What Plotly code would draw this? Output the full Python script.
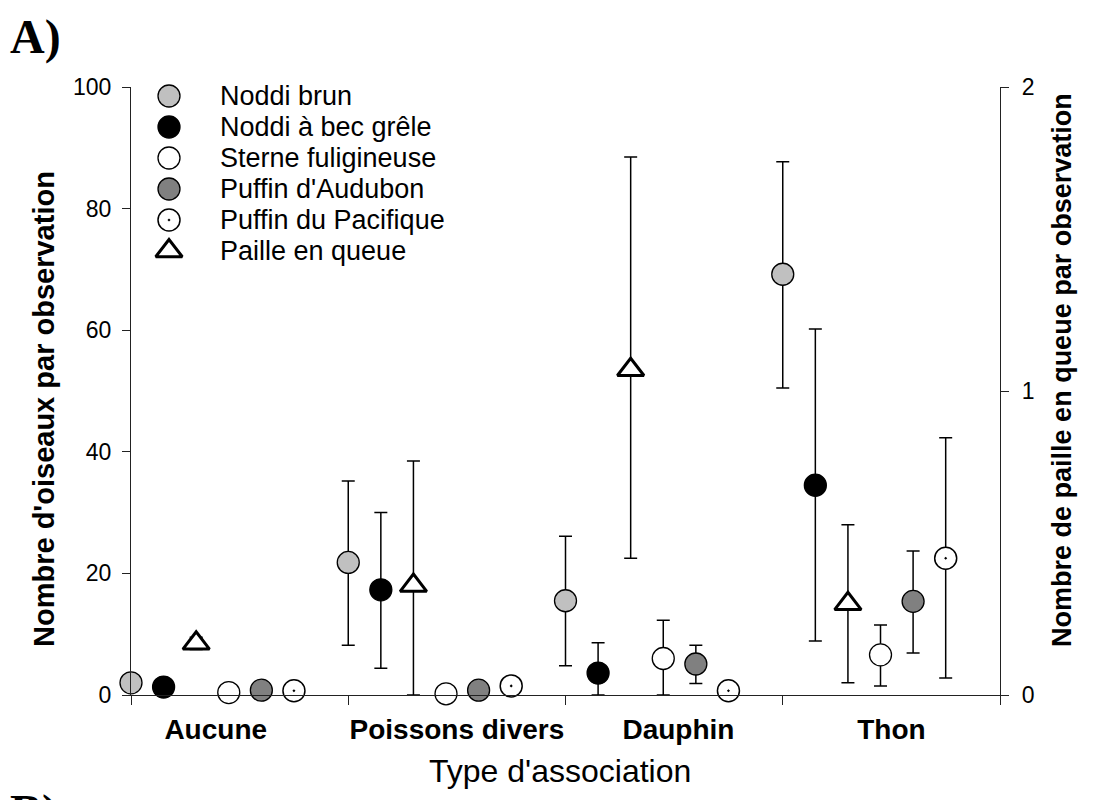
import plotly.graph_objects as go

# ---------------- data ----------------
groups = ["Aucune", "Poissons divers", "Dauphin", "Thon"]

noddi_brun = [2.0, 21.8, 15.5, 69.2]
noddi_brun_hi = [None, 35.2, 26.1, 87.7]
noddi_brun_lo = [None, 8.2, 4.8, 50.5]

noddi_bec = [1.3, 17.3, 3.6, 34.5]
noddi_bec_hi = [None, 30.0, 8.6, 60.2]
noddi_bec_lo = [None, 4.4, 0.0, 8.9]

sterne = [0.4, 0.2, 6.0, 6.6]
sterne_hi = [None, None, 12.3, 11.5]
sterne_lo = [None, None, 0.0, 1.5]

audubon = [0.8, 0.8, 5.1, 15.4]
audubon_hi = [None, None, 8.2, 23.7]
audubon_lo = [None, None, 1.9, 6.9]

pacifique = [0.7, 1.5, 0.7, 22.5]
pacifique_hi = [None, None, None, 42.3]
pacifique_lo = [None, None, None, 2.8]

# right axis (paille en queue)
paille = [0.17, 0.36, 1.07, 0.30]
paille_hi = [0.19, 0.77, 1.77, 0.56]
paille_lo = [0.15, 0.0, 0.45, 0.04]

left_ticks = [0, 20, 40, 60, 80, 100]
right_ticks = [0, 1, 2]

# ---------------- styling ----------------
FONT = "Arial, Liberation Sans, sans-serif"
SERIF = "Liberation Serif, Times New Roman, serif"
SLOT = 0.15
LABEL_X = [0.39, 1.5, 2.52, 3.5]

def err(vals, hi, lo):
    up = [None if h is None else h - v for v, h in zip(vals, hi)]
    dn = [None if l is None else v - l for v, l in zip(vals, lo)]
    return up, dn

series = [
    dict(name="Noddi brun", v=noddi_brun, hi=noddi_brun_hi, lo=noddi_brun_lo, slot=0, axis="y",
         marker=dict(symbol="circle", color="#c0c0c0", size=22, line=dict(color="black", width=1.3))),
    dict(name="Noddi à bec grêle", v=noddi_bec, hi=noddi_bec_hi, lo=noddi_bec_lo, slot=1, axis="y",
         marker=dict(symbol="circle", color="black", size=22, line=dict(color="black", width=1.3))),
    dict(name="Sterne fuligineuse", v=sterne, hi=sterne_hi, lo=sterne_lo, slot=3, axis="y",
         marker=dict(symbol="circle", color="white", size=22, line=dict(color="black", width=1.3))),
    dict(name="Puffin d'Audubon", v=audubon, hi=audubon_hi, lo=audubon_lo, slot=4, axis="y",
         marker=dict(symbol="circle", color="#808080", size=22, line=dict(color="black", width=1.3))),
    dict(name="Puffin du Pacifique", v=pacifique, hi=pacifique_hi, lo=pacifique_lo, slot=5, axis="y",
         marker=dict(symbol="circle-dot", color="white", size=22, line=dict(color="black", width=1.5))),
    dict(name="Paille en queue", v=paille, hi=paille_hi, lo=paille_lo, slot=2, axis="y2",
         marker=dict(symbol="triangle-up", color="white", size=23, line=dict(color="black", width=3))),
]

fig = go.Figure()

for s in series:
    up, dn = err(s["v"], s["hi"], s["lo"])
    xs = [g + s["slot"] * SLOT for g in range(len(groups))]
    fig.add_trace(go.Scatter(
        x=xs, y=s["v"], mode="markers", name=s["name"], yaxis=s["axis"],
        marker=s["marker"], cliponaxis=False, showlegend=False,
        error_y=dict(type="data", symmetric=False, array=up, arrayminus=dn,
                     color="black", thickness=1.5, width=6.5, visible=True),
    ))

# legend drawn on a hidden overlay subplot (one row per series)
LEG_MARKER_X = 38
LEG_TEXT_X = 87
for i, s in enumerate(series):
    fig.add_trace(go.Scatter(
        x=[LEG_MARKER_X], y=[i], mode="markers", xaxis="x3", yaxis="y3",
        marker=s["marker"], showlegend=False, cliponaxis=False, hoverinfo="skip",
    ))
    fig.add_annotation(x=LEG_TEXT_X, y=i, xref="x3", yref="y3", text=s["name"],
                       showarrow=False, xanchor="left", yanchor="middle",
                       font=dict(family=FONT, size=27, color="black"))

axis_common = dict(showgrid=False, zeroline=False, showline=True, linecolor="#222",
                   linewidth=1.2, ticks="outside", ticklen=8, tickcolor="#222",
                   tickwidth=1.2)

# page body has an 8px margin: the figure is sized/placed to compensate
fig.update_layout(
    width=1095, height=792,
    margin=dict(l=123, r=103, t=79, b=105),
    paper_bgcolor="white", plot_bgcolor="white",
    showlegend=False,
    font=dict(family=FONT, color="black"),
    xaxis=dict(range=[0, 4], showgrid=False, zeroline=False, showline=True,
               linecolor="#222", linewidth=1.2,
               tickmode="array", tickvals=LABEL_X, ticktext=groups, ticks="",
               tickfont=dict(family=FONT, size=28, color="black", weight="bold"),
               ticklabelstandoff=9,
               minor=dict(tickmode="array", tickvals=[0, 1, 2, 3, 4], ticks="outside",
                          ticklen=9, tickcolor="#222", tickwidth=1.2, showgrid=False)),
    yaxis=dict(range=[0, 100], tickvals=left_ticks,
               tickfont=dict(family=FONT, size=23, color="black"),
               ticklabelstandoff=6, **axis_common),
    yaxis2=dict(range=[0, 2], tickvals=right_ticks, overlaying="y", side="right",
                anchor="x", tickfont=dict(family=FONT, size=23, color="black"),
                ticklabelstandoff=8, **axis_common),
    xaxis3=dict(overlaying="x", anchor="y3", range=[0, 869], visible=False),
    yaxis3=dict(overlaying="y", anchor="x3", range=[19.32, -0.29], visible=False),
)

# axis titles and panel letters
fig.add_annotation(text="Nombre d'oiseaux par observation", xref="paper", yref="paper",
                   x=-0.1001, y=0.0757, xanchor="center", yanchor="bottom", textangle=-90,
                   showarrow=False, font=dict(family=FONT, size=29, color="black", weight="bold"))
fig.add_annotation(text="Nombre de paille en queue par observation", xref="paper", yref="paper",
                   x=1.0713, y=0.0757, xanchor="center", yanchor="bottom", textangle=-90,
                   showarrow=False, font=dict(family=FONT, size=27, color="black", weight="bold"))
fig.add_annotation(text="Type d'association", xref="paper", yref="paper",
                   x=0.4937, y=-0.1250, xanchor="center", yanchor="middle",
                   showarrow=False, font=dict(family=FONT, size=32, color="black"))
fig.add_annotation(text="A)", xref="paper", yref="paper", x=-0.1415, y=1.1299,
                   xanchor="left", yanchor="top", showarrow=False,
                   font=dict(family=SERIF, size=48, color="black", weight="bold"))
fig.add_annotation(text="B)", xref="paper", yref="paper", x=-0.1415, y=-0.1447,
                   xanchor="left", yanchor="top", showarrow=False,
                   font=dict(family=SERIF, size=48, color="black", weight="bold"))

fig.write_html("out.html")
